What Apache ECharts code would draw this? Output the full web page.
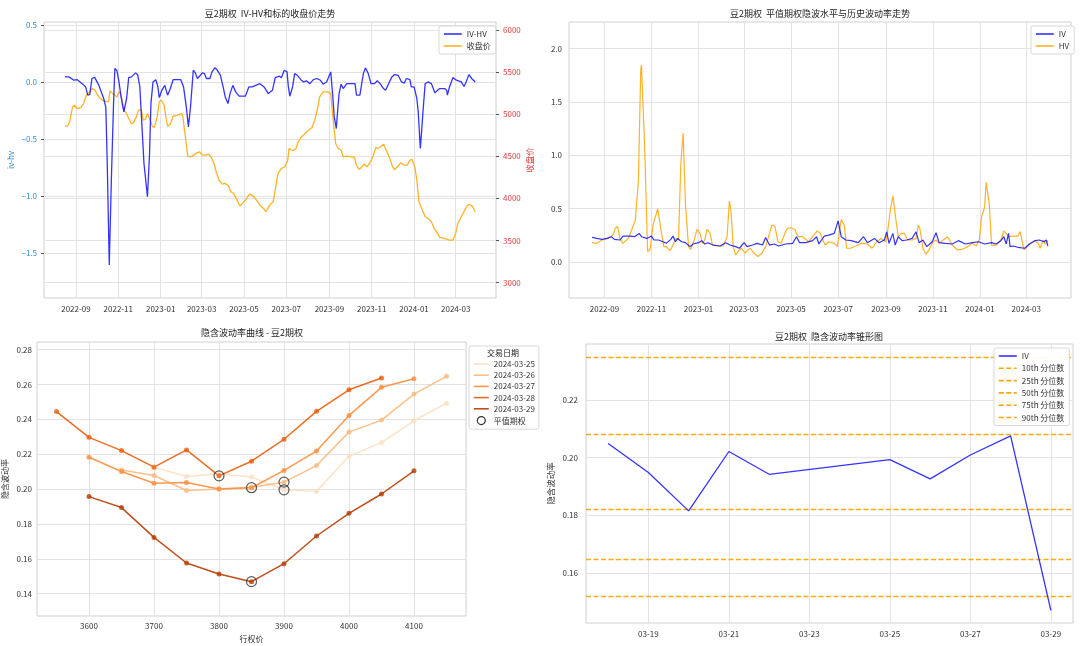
<!DOCTYPE html>
<html><head><meta charset="utf-8">
<script src="https://cdn.jsdelivr.net/npm/echarts@6/dist/echarts.min.js"></script>
<style>html,body{margin:0;padding:0;background:#fff}#c{width:1080px;height:646px}</style>
</head><body><div id="c"></div>
<script>
const FONT = "'Noto Sans CJK SC','Noto Sans',sans-serif";

// ---------- top-left: IV-HV and close price ----------
const ivhvSeries = [
['2022-08-16',0.044],['2022-08-22',0.044],['2022-08-29',0.015],['2022-09-03',0.020],['2022-09-10',-0.015],['2022-09-15',-0.044],['2022-09-18',-0.116],['2022-09-21',-0.110],['2022-09-24',0.030],['2022-09-28',0.040],['2022-10-04',-0.030],['2022-10-11',-0.145],['2022-10-14',-0.220],['2022-10-16',-0.685],['2022-10-19',-1.603],['2022-10-22',-0.860],['2022-10-25',-0.220],['2022-10-27',0.117],['2022-10-30',0.100],['2022-11-02',0.000],['2022-11-05',-0.130],['2022-11-09',-0.262],['2022-11-13',-0.145],['2022-11-16',0.038],['2022-11-20',0.044],['2022-11-26',0.079],['2022-11-29',0.060],['2022-12-02',-0.040],['2022-12-04',-0.030],['2022-12-08',-0.714],['2022-12-13',-1.005],['2022-12-16',-0.630],['2022-12-18',-0.190],['2022-12-21',0.000],['2022-12-25',0.020],['2022-12-28',-0.044],['2022-12-30',-0.137],['2023-01-03',-0.070],['2023-01-07',-0.030],['2023-01-09',-0.040],['2023-01-11',-0.116],['2023-01-15',-0.058],['2023-01-19',0.020],['2023-01-30',0.020],['2023-02-03',-0.044],['2023-02-07',-0.220],['2023-02-10',-0.393],['2023-02-13',-0.220],['2023-02-17',0.102],['2023-02-20',0.079],['2023-02-23',0.030],['2023-02-26',0.050],['2023-03-02',0.079],['2023-03-05',0.073],['2023-03-08',0.030],['2023-03-13',0.030],['2023-03-16',0.088],['2023-03-20',0.123],['2023-03-23',0.108],['2023-03-28',0.060],['2023-04-01',-0.044],['2023-04-04',-0.131],['2023-04-08',-0.189],['2023-04-11',-0.100],['2023-04-15',-0.030],['2023-04-19',-0.087],['2023-04-24',-0.125],['2023-05-03',-0.125],['2023-05-08',-0.044],['2023-05-13',-0.044],['2023-05-18',-0.030],['2023-05-24',-0.015],['2023-05-30',-0.044],['2023-06-05',-0.102],['2023-06-11',-0.073],['2023-06-15',0.038],['2023-06-21',0.050],['2023-06-24',0.038],['2023-06-28',0.102],['2023-07-02',0.088],['2023-07-04',-0.044],['2023-07-06',-0.125],['2023-07-10',-0.044],['2023-07-13',0.073],['2023-07-17',0.058],['2023-07-22',0.020],['2023-07-26',0.000],['2023-07-30',0.010],['2023-08-04',-0.015],['2023-08-09',0.020],['2023-08-14',0.030],['2023-08-19',0.015],['2023-08-23',-0.020],['2023-08-28',0.000],['2023-08-31',0.044],['2023-09-03',0.088],['2023-09-06',-0.131],['2023-09-08',-0.306],['2023-09-11',-0.408],['2023-09-13',-0.247],['2023-09-15',-0.102],['2023-09-18',-0.020],['2023-09-21',-0.058],['2023-09-26',-0.015],['2023-10-08',-0.015],['2023-10-10',-0.116],['2023-10-15',-0.116],['2023-10-18',0.000],['2023-10-20',0.073],['2023-10-23',0.123],['2023-10-27',0.073],['2023-10-31',-0.015],['2023-11-05',-0.015],['2023-11-09',0.010],['2023-11-13',-0.015],['2023-11-18',-0.058],['2023-11-21',-0.073],['2023-11-25',-0.020],['2023-11-30',0.044],['2023-12-04',0.064],['2023-12-09',0.058],['2023-12-14',0.000],['2023-12-18',-0.010],['2023-12-21',0.030],['2023-12-26',0.020],['2023-12-28',-0.044],['2024-01-01',-0.044],['2024-01-05',-0.145],['2024-01-07',-0.262],['2024-01-10',-0.583],['2024-01-12',-0.420],['2024-01-14',-0.247],['2024-01-17',-0.015],['2024-01-21',0.000],['2024-01-26',-0.015],['2024-01-31',-0.096],['2024-02-04',-0.073],['2024-02-07',-0.058],['2024-02-14',-0.058],['2024-02-17',-0.073],['2024-02-18',-0.116],['2024-02-21',-0.044],['2024-02-26',0.038],['2024-03-02',0.015],['2024-03-05',0.010],['2024-03-09',0.000],['2024-03-13',-0.040],['2024-03-16',0.000],['2024-03-20',0.064],['2024-03-24',0.030],['2024-03-29',0.000]
];
const closeSeries = [
['2022-08-16',4857],['2022-08-20',4857],['2022-08-23',4910],['2022-08-27',5078],['2022-08-30',5105],['2022-09-03',5066],['2022-09-08',5078],['2022-09-12',5125],['2022-09-16',5224],['2022-09-21',5263],['2022-09-24',5303],['2022-09-28',5290],['2022-10-01',5243],['2022-10-06',5184],['2022-10-11',5157],['2022-10-18',5145],['2022-10-20',5275],['2022-10-23',5251],['2022-10-27',5224],['2022-10-30',5204],['2022-11-02',5263],['2022-11-05',5224],['2022-11-09',5046],['2022-11-13',5006],['2022-11-16',4947],['2022-11-20',4888],['2022-11-23',4896],['2022-11-27',4967],['2022-11-30',5046],['2022-12-04',5054],['2022-12-07',4928],['2022-12-10',4936],['2022-12-13',5006],['2022-12-16',4947],['2022-12-20',4857],['2022-12-23',4842],['2022-12-27',4967],['2022-12-30',5145],['2023-01-02',5164],['2023-01-06',5105],['2023-01-09',4947],['2023-01-11',4857],['2023-01-15',4880],['2023-01-19',4975],['2023-01-25',4986],['2023-01-31',5006],['2023-02-02',4967],['2023-02-05',4770],['2023-02-09',4501],['2023-02-13',4493],['2023-02-18',4513],['2023-02-22',4541],['2023-02-26',4553],['2023-03-02',4513],['2023-03-07',4513],['2023-03-11',4525],['2023-03-15',4485],['2023-03-19',4414],['2023-03-22',4316],['2023-03-26',4217],['2023-03-31',4170],['2023-04-04',4178],['2023-04-09',4146],['2023-04-12',4079],['2023-04-16',4059],['2023-04-20',4000],['2023-04-25',3909],['2023-04-28',3933],['2023-05-03',3980],['2023-05-09',4051],['2023-05-15',4027],['2023-05-19',3980],['2023-05-24',3920],['2023-05-29',3881],['2023-06-02',3841],['2023-06-07',3920],['2023-06-12',3960],['2023-06-15',4098],['2023-06-19',4296],['2023-06-24',4355],['2023-06-29',4375],['2023-07-03',4454],['2023-07-05',4592],['2023-07-10',4565],['2023-07-15',4592],['2023-07-18',4671],['2023-07-23',4730],['2023-07-28',4770],['2023-08-02',4809],['2023-08-07',4841],['2023-08-11',4928],['2023-08-15',5066],['2023-08-18',5204],['2023-08-23',5263],['2023-08-30',5263],['2023-09-03',5243],['2023-09-06',4967],['2023-09-10',4651],['2023-09-14',4592],['2023-09-18',4572],['2023-09-21',4493],['2023-09-26',4501],['2023-10-03',4493],['2023-10-07',4485],['2023-10-10',4395],['2023-10-14',4343],['2023-10-18',4375],['2023-10-21',4407],['2023-10-25',4375],['2023-10-29',4414],['2023-11-03',4501],['2023-11-07',4604],['2023-11-10',4592],['2023-11-14',4612],['2023-11-18',4643],['2023-11-20',4620],['2023-11-24',4533],['2023-11-27',4473],['2023-12-01',4375],['2023-12-04',4343],['2023-12-08',4375],['2023-12-13',4422],['2023-12-18',4395],['2023-12-22',4395],['2023-12-26',4454],['2023-12-29',4462],['2024-01-02',4375],['2024-01-05',4217],['2024-01-08',3960],['2024-01-12',3881],['2024-01-17',3782],['2024-01-21',3763],['2024-01-26',3723],['2024-01-30',3644],['2024-02-04',3585],['2024-02-07',3538],['2024-02-14',3526],['2024-02-21',3506],['2024-02-26',3506],['2024-03-01',3585],['2024-03-04',3703],['2024-03-09',3782],['2024-03-14',3861],['2024-03-18',3920],['2024-03-21',3928],['2024-03-25',3909],['2024-03-29',3841]
];

// ---------- top-right: IV and HV ----------
const ivSeries = [
['2022-08-16',0.231],['2022-08-22',0.222],['2022-08-29',0.213],['2022-09-04',0.222],['2022-09-10',0.238],['2022-09-14',0.213],['2022-09-21',0.207],['2022-09-25',0.244],['2022-10-04',0.244],['2022-10-10',0.238],['2022-10-16',0.269],['2022-10-19',0.238],['2022-10-26',0.222],['2022-11-01',0.244],['2022-11-04',0.207],['2022-11-10',0.207],['2022-11-16',0.191],['2022-11-20',0.176],['2022-11-26',0.213],['2022-11-29',0.244],['2022-12-02',0.191],['2022-12-05',0.222],['2022-12-10',0.191],['2022-12-15',0.182],['2022-12-21',0.145],['2022-12-25',0.170],['2023-01-01',0.182],['2023-01-05',0.201],['2023-01-09',0.170],['2023-01-13',0.182],['2023-01-20',0.160],['2023-01-29',0.151],['2023-02-05',0.182],['2023-02-11',0.160],['2023-02-18',0.145],['2023-02-23',0.130],['2023-03-01',0.182],['2023-03-05',0.145],['2023-03-12',0.160],['2023-03-18',0.176],['2023-03-25',0.160],['2023-03-29',0.231],['2023-04-03',0.160],['2023-04-09',0.170],['2023-04-15',0.151],['2023-04-24',0.170],['2023-05-03',0.176],['2023-05-08',0.238],['2023-05-12',0.182],['2023-05-20',0.182],['2023-05-29',0.201],['2023-06-03',0.238],['2023-06-06',0.170],['2023-06-13',0.244],['2023-06-19',0.253],['2023-06-26',0.269],['2023-07-01',0.386],['2023-07-05',0.238],['2023-07-11',0.207],['2023-07-18',0.201],['2023-07-27',0.182],['2023-08-03',0.238],['2023-08-08',0.182],['2023-08-17',0.222],['2023-08-23',0.182],['2023-08-30',0.207],['2023-09-02',0.284],['2023-09-05',0.176],['2023-09-10',0.269],['2023-09-13',0.160],['2023-09-17',0.238],['2023-09-22',0.201],['2023-09-28',0.207],['2023-10-05',0.222],['2023-10-10',0.284],['2023-10-14',0.182],['2023-10-19',0.207],['2023-10-24',0.145],['2023-10-31',0.191],['2023-11-05',0.275],['2023-11-09',0.182],['2023-11-17',0.176],['2023-11-26',0.170],['2023-12-04',0.201],['2023-12-13',0.170],['2023-12-22',0.182],['2023-12-30',0.191],['2024-01-07',0.170],['2024-01-16',0.182],['2024-01-22',0.170],['2024-01-28',0.201],['2024-02-01',0.238],['2024-02-04',0.170],['2024-02-07',0.269],['2024-02-09',0.145],['2024-02-13',0.151],['2024-02-19',0.139],['2024-02-28',0.130],['2024-03-05',0.170],['2024-03-12',0.201],['2024-03-18',0.207],['2024-03-24',0.191],['2024-03-27',0.207],['2024-03-29',0.151]
];
const hvSeries = [
['2022-08-16',0.182],['2022-08-22',0.176],['2022-08-29',0.207],['2022-09-06',0.222],['2022-09-12',0.253],['2022-09-15',0.315],['2022-09-18',0.336],['2022-09-21',0.222],['2022-09-25',0.176],['2022-10-02',0.222],['2022-10-11',0.392],['2022-10-15',0.762],['2022-10-18',1.800],['2022-10-19',1.845],['2022-10-23',1.100],['2022-10-27',0.099],['2022-10-30',0.114],['2022-11-03',0.346],['2022-11-09',0.500],['2022-11-13',0.315],['2022-11-17',0.145],['2022-11-20',0.145],['2022-11-25',0.108],['2022-11-29',0.160],['2022-12-02',0.222],['2022-12-06',0.207],['2022-12-09',0.917],['2022-12-12',1.210],['2022-12-15',0.546],['2022-12-19',0.145],['2022-12-22',0.120],['2022-12-27',0.222],['2022-12-30',0.306],['2023-01-03',0.269],['2023-01-06',0.176],['2023-01-09',0.207],['2023-01-12',0.306],['2023-01-16',0.269],['2023-01-19',0.160],['2023-01-27',0.151],['2023-02-02',0.151],['2023-02-07',0.238],['2023-02-10',0.571],['2023-02-12',0.485],['2023-02-15',0.145],['2023-02-18',0.068],['2023-02-22',0.108],['2023-02-26',0.130],['2023-03-02',0.083],['2023-03-06',0.114],['2023-03-09',0.130],['2023-03-14',0.083],['2023-03-19',0.052],['2023-03-24',0.083],['2023-03-29',0.145],['2023-04-03',0.269],['2023-04-06',0.346],['2023-04-10',0.336],['2023-04-14',0.191],['2023-04-18',0.176],['2023-04-23',0.269],['2023-04-26',0.315],['2023-04-30',0.324],['2023-05-06',0.306],['2023-05-10',0.238],['2023-05-16',0.238],['2023-05-24',0.191],['2023-05-29',0.238],['2023-06-04',0.293],['2023-06-08',0.269],['2023-06-14',0.160],['2023-06-19',0.191],['2023-06-26',0.176],['2023-06-30',0.145],['2023-07-05',0.398],['2023-07-09',0.346],['2023-07-12',0.130],['2023-07-17',0.130],['2023-07-24',0.151],['2023-07-31',0.176],['2023-08-08',0.170],['2023-08-14',0.130],['2023-08-20',0.191],['2023-08-26',0.222],['2023-09-01',0.191],['2023-09-04',0.330],['2023-09-07',0.500],['2023-09-10',0.623],['2023-09-14',0.392],['2023-09-17',0.238],['2023-09-21',0.269],['2023-09-25',0.269],['2023-09-29',0.207],['2023-10-05',0.207],['2023-10-10',0.222],['2023-10-13',0.346],['2023-10-15',0.315],['2023-10-19',0.130],['2023-10-23',0.074],['2023-10-27',0.114],['2023-11-01',0.191],['2023-11-05',0.207],['2023-11-09',0.176],['2023-11-15',0.213],['2023-11-20',0.238],['2023-11-26',0.160],['2023-12-03',0.114],['2023-12-09',0.120],['2023-12-16',0.145],['2023-12-22',0.176],['2023-12-27',0.151],['2023-12-31',0.207],['2024-01-03',0.423],['2024-01-07',0.515],['2024-01-09',0.747],['2024-01-13',0.546],['2024-01-16',0.160],['2024-01-22',0.160],['2024-01-28',0.207],['2024-02-01',0.293],['2024-02-04',0.269],['2024-02-07',0.238],['2024-02-13',0.244],['2024-02-19',0.244],['2024-02-22',0.286],['2024-02-27',0.114],['2024-03-01',0.139],['2024-03-06',0.170],['2024-03-12',0.201],['2024-03-16',0.182],['2024-03-19',0.130],['2024-03-23',0.207],['2024-03-25',0.170],['2024-03-29',0.201]
];

// ---------- bottom-left: IV smile per trade date ----------
const smileDates = ['2024-03-25','2024-03-26','2024-03-27','2024-03-28','2024-03-29'];
const strikes0325 = [3700,3750,3800,3850,3900,3950,4000,4050,4100,4150];
const iv0325      = [0.2126,0.2072,0.2088,0.2069,0.1996,0.1987,0.2189,0.2267,0.2392,0.2493];
const strikes0326 = [3650,3700,3750,3800,3850,3900,3950,4000,4050,4100,4150];
const iv0326      = [0.2110,0.2078,0.1992,0.2000,0.2011,0.2040,0.2135,0.2327,0.2396,0.2545,0.2647];
const strikes0327 = [3600,3650,3700,3750,3800,3850,3900,3950,4000,4050,4100];
const iv0327      = [0.2183,0.2101,0.2034,0.2038,0.2000,0.2008,0.2107,0.2218,0.2423,0.2584,0.2633];
const strikes0328 = [3550,3600,3650,3700,3750,3800,3850,3900,3950,4000,4050];
const iv0328      = [0.2445,0.2297,0.2221,0.2126,0.2225,0.2076,0.2160,0.2286,0.2446,0.2570,0.2637];
const strikes0329 = [3600,3650,3700,3750,3800,3850,3900,3950,4000,4050,4100];
const iv0329      = [0.1957,0.1894,0.1723,0.1576,0.1513,0.1469,0.1572,0.1731,0.1861,0.1972,0.2105];
const atmStrikes  = [3900,3900,3850,3800,3850];
const atmIV       = [0.1996,0.2040,0.2008,0.2076,0.1469];

// ---------- bottom-right: IV cone ----------
const coneDates = ['2024-03-18','2024-03-19','2024-03-20','2024-03-21','2024-03-22','2024-03-25','2024-03-26','2024-03-27','2024-03-28','2024-03-29'];
const coneIV    = [0.2049,0.1948,0.1815,0.2021,0.1942,0.1993,0.1926,0.2009,0.2075,0.1470];
const pctNames  = ['10th 分位数','25th 分位数','50th 分位数','75th 分位数','90th 分位数'];
const pctValues = [0.1518,0.1647,0.1821,0.2081,0.2348];

// ---------- tick values ----------
const monthTicks = ['2022-09-01','2022-11-01','2023-01-01','2023-03-01','2023-05-01','2023-07-01','2023-09-01','2023-11-01','2024-01-01','2024-03-01'];
const ivhvTicks  = [-1.5,-1.0,-0.5,0.0,0.5];
const closeTicks = [3000,3500,4000,4500,5000,5500,6000];
const volTicks   = [0,0.5,1.0,1.5,2.0];
const strikeTicks= [3600,3700,3800,3900,4000,4100];
const smileTicks = [0.14,0.16,0.18,0.20,0.22,0.24,0.26,0.28];
const coneXTicks = ['2024-03-19','2024-03-21','2024-03-23','2024-03-25','2024-03-27','2024-03-29'];
const coneYTicks = [0.16,0.18,0.20,0.22];

const smileColors = ['#fedfc0','#fdb97d','#fd8d3c','#e95e0d','#b73c02'];
const smileStrikes = [strikes0325,strikes0326,strikes0327,strikes0328,strikes0329];
const smileIVs = [iv0325,iv0326,iv0327,iv0328,iv0329];

const GRID_C = '#e3e3e3';
const pad = n => String(n).padStart(2,'0');
const ym = v => { const d = new Date(v); return d.getFullYear() + '-' + pad(d.getMonth()+1); };
const md = v => { const d = new Date(v); return pad(d.getMonth()+1) + '-' + pad(d.getDate()); };
const ts = s => { const p = s.split('-').map(Number); return new Date(p[0], p[1]-1, p[2]).getTime(); };
const tsPairs = arr => arr.map(p => [ts(p[0]), p[1]]);
const zip = (a,b) => a.map((x,i)=>[x,b[i]]);
const lbl = (extra) => Object.assign({fontSize:8, color:'#333', fontFamily:FONT}, extra||{});
const split = {show:true, lineStyle:{color:GRID_C, width:1}};
const plain = v => String(v);

function valAxis(o){
  return Object.assign({type:'value', scale:true, axisLine:{show:false}, splitLine:split}, o);
}
const T0 = new Date(2022,6,17).getTime(), T1 = new Date(2024,3,28).getTime();

const xAxis = [
  valAxis({gridIndex:0, min:T0, max:T1,
   axisTick:{show:false, customValues:monthTicks.map(ts)},
   axisLabel:lbl({customValues:monthTicks.map(ts), formatter:ym, margin:7, hideOverlap:false})}),
  valAxis({gridIndex:1, min:T0, max:T1,
   axisTick:{show:false, customValues:monthTicks.map(ts)},
   axisLabel:lbl({customValues:monthTicks.map(ts), formatter:ym, margin:7, hideOverlap:false})}),
  valAxis({gridIndex:2, min:3520, max:4180,
   axisTick:{show:false, customValues:strikeTicks},
   axisLabel:lbl({customValues:strikeTicks, margin:6, formatter:plain}),
   name:'行权价', nameLocation:'middle', nameGap:19, nameTextStyle:lbl()}),
  valAxis({gridIndex:3, min:new Date(2024,2,17,10,48).getTime(), max:new Date(2024,2,29,13,12).getTime(),
   axisTick:{show:false, customValues:coneXTicks.map(ts)},
   axisLabel:lbl({customValues:coneXTicks.map(ts), formatter:md, margin:7, hideOverlap:false})})
];

const yAxis = [
  valAxis({gridIndex:0, min:-1.891, max:0.5245, position:'left',
   axisTick:{show:true, length:3, lineStyle:{color:'#555'}, customValues:ivhvTicks},
   axisLabel:lbl({customValues:ivhvTicks, color:'#3a87c8', margin:7, formatter:v=>v.toFixed(1).replace('-','\u2212')}),
   name:'iv-hv', nameLocation:'middle', nameGap:29, nameRotate:90, nameTextStyle:lbl({color:'#3a87c8'})}),
  valAxis({gridIndex:0, min:2819, max:6092, position:'right',
   axisTick:{show:true, length:3, lineStyle:{color:'#555'}, customValues:closeTicks},
   axisLabel:lbl({customValues:closeTicks, color:'#e03a3a', margin:7, formatter:plain}),
   name:'收盘价', nameLocation:'middle', nameGap:30, nameRotate:90, nameTextStyle:lbl({color:'#e03a3a', fontSize:8.5})}),
  valAxis({gridIndex:1, min:-0.336, max:2.249,
   axisTick:{show:false, customValues:volTicks},
   axisLabel:lbl({customValues:volTicks, margin:7, formatter:v=>v.toFixed(1)})}),
  valAxis({gridIndex:2, min:0.1272, max:0.2844,
   axisTick:{show:false, customValues:smileTicks},
   axisLabel:lbl({customValues:smileTicks, margin:5, formatter:v=>v.toFixed(2)}),
   name:'隐含波动率', nameLocation:'middle', nameGap:28, nameRotate:90, nameTextStyle:lbl()}),
  valAxis({gridIndex:3, min:0.1426, max:0.2394,
   axisTick:{show:false, customValues:coneYTicks},
   axisLabel:lbl({customValues:coneYTicks, margin:8, formatter:v=>v.toFixed(2)}),
   name:'隐含波动率', nameLocation:'middle', nameGap:31, nameRotate:90, nameTextStyle:lbl({fontSize:8.5})})
];

const BLUE = '#1010ff', ORANGE = '#ffa500';
const series = [
  {type:'line', name:'IV-HV', xAxisIndex:0, yAxisIndex:0, data:tsPairs(ivhvSeries), symbol:'none', color:BLUE, lineStyle:{color:BLUE, width:1.3, opacity:0.85}, z:3},
  {type:'line', name:'收盘价', xAxisIndex:0, yAxisIndex:1, data:tsPairs(closeSeries), symbol:'none', color:ORANGE, lineStyle:{color:ORANGE, width:1.3, opacity:0.85}, z:2},
  {type:'line', name:'IV', xAxisIndex:1, yAxisIndex:2, data:tsPairs(ivSeries), symbol:'none', color:BLUE, lineStyle:{color:BLUE, width:1.2, opacity:0.85}, z:3},
  {type:'line', name:'HV', xAxisIndex:1, yAxisIndex:2, data:tsPairs(hvSeries), symbol:'none', color:ORANGE, lineStyle:{color:ORANGE, width:1.2, opacity:0.85}, z:2}
];
smileDates.forEach((d,i)=>{
  const pts = zip(smileStrikes[i], smileIVs[i]);
  series.push({type:'line', name:d, xAxisIndex:2, yAxisIndex:3, data:pts, symbol:'none', color:smileColors[i],
    lineStyle:{color:smileColors[i], width:1.5, opacity:0.9}, z:2});
  series.push({type:'scatter', name:d+' 点', xAxisIndex:2, yAxisIndex:3, data:pts, symbol:'circle', symbolSize:5,
    itemStyle:{color:smileColors[i]}, z:3});
});
series.push({type:'scatter', name:'平值期权', xAxisIndex:2, yAxisIndex:3, data:zip(atmStrikes, atmIV), symbol:'circle', symbolSize:10,
  itemStyle:{color:'rgba(0,0,0,0)', borderColor:'#333', borderWidth:1.2}, z:5});
series.push({type:'line', name:'IV', xAxisIndex:3, yAxisIndex:4, data:zip(coneDates.map(ts), coneIV), symbol:'none', color:BLUE,
  lineStyle:{color:BLUE, width:1.3, opacity:0.85}, z:3});
pctNames.forEach((n,i)=>{
  series.push({type:'line', name:n, xAxisIndex:3, yAxisIndex:4, data:[], symbol:'none', color:ORANGE, z:2,
    lineStyle:{color:ORANGE, width:1.3, type:[5,2.5]},
    markLine:{silent:true, precision:6, symbol:['none','none'], label:{show:false}, animation:false, z:2,
      lineStyle:{color:ORANGE, width:1.3, type:[5,2.5], opacity:0.95}, data:[{yAxis:pctValues[i]}]}});
});

const legendBase = {orient:'vertical', itemWidth:18, itemHeight:7, itemGap:4, padding:[4,5,4,4], z:20,
  borderColor:'#d8d8d8', borderWidth:1, borderRadius:2, backgroundColor:'rgba(255,255,255,0.93)',
  itemStyle:{opacity:0}, lineStyle:{width:1.6},
  textStyle:lbl(), selectedMode:false};
const legend = [
  Object.assign({}, legendBase, {left:439, top:26, data:['IV-HV','收盘价']}),
  Object.assign({}, legendBase, {left:1031, top:26, data:['IV','HV']}),
  Object.assign({}, legendBase, {left:469, top:346, itemWidth:15, itemHeight:8, itemGap:3.2, padding:[14,4,4,4],
    data:smileDates.concat([{name:'平值期权', itemStyle:{opacity:1, color:'rgba(0,0,0,0)', borderColor:'#333', borderWidth:1.2}}])}),
  Object.assign({}, legendBase, {left:994, top:348, itemGap:4.3, data:['IV'].concat(pctNames)})
];

const titleText = (t,x,y) => ({type:'text', x:x, y:y, z:100,
  style:{text:t, align:'center', verticalAlign:'middle', fontSize:9, fill:'#222', fontFamily:FONT}});

const option = {
  animation:false,
  backgroundColor:'#fff',
  grid:[
    {left:44, top:22, width:452, height:276, show:true, borderColor:'#d0d0d0', borderWidth:1},
    {left:569, top:22, width:502, height:276, show:true, borderColor:'#d0d0d0', borderWidth:1},
    {left:37, top:342, width:429, height:274, show:true, borderColor:'#d0d0d0', borderWidth:1},
    {left:586, top:344, width:487, height:279, show:true, borderColor:'#d0d0d0', borderWidth:1}
  ],
  xAxis:xAxis, yAxis:yAxis, series:series, legend:legend,
  graphic:[
    titleText('豆2期权  IV-HV和标的收盘价走势', 270, 14),
    titleText('豆2期权  平值期权隐波水平与历史波动率走势', 820, 14),
    titleText('隐含波动率曲线 - 豆2期权', 252, 333),
    titleText('豆2期权  隐含波动率锥形图', 829, 337),
    {type:'text', x:503, y:352.5, z:100, zlevel:0, style:{text:'交易日期', align:'center', verticalAlign:'middle', fontSize:8, fill:'#222', fontFamily:FONT}}
  ]
};
const chart = echarts.init(document.getElementById('c'), null, {renderer:'canvas'});
chart.setOption(option);
</script></body></html>
